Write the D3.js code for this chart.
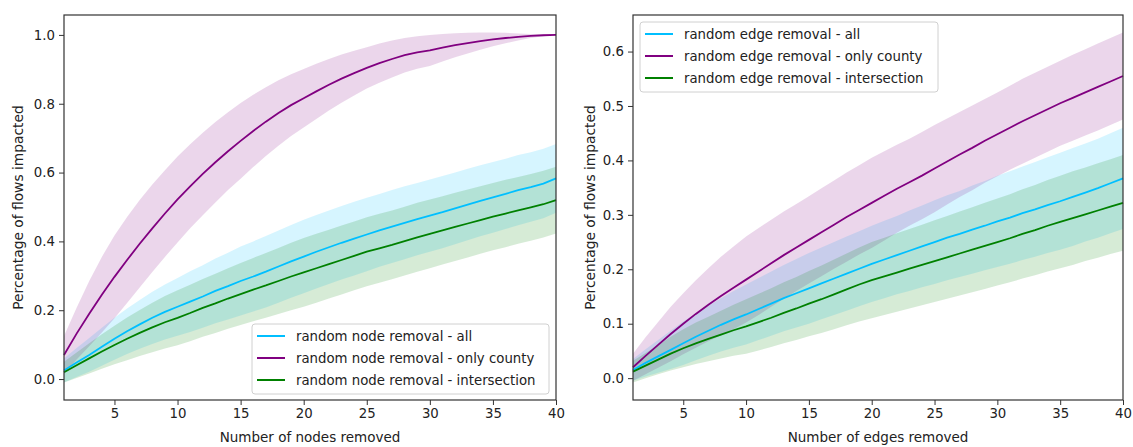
<html>
<head>
<script src="https://d3js.org/d3.v7.min.js"></script>
<style>
body { margin: 0; background: #fff; }
text { font-family: "DejaVu Sans", sans-serif; fill: #222; }
.axis path, .axis line { stroke: #333; }
</style>
</head>
<body>
<svg width="1133" height="447"></svg>
<script>

// x = number of nodes / edges removed
var steps = d3.range(1, 41);

// left panel : random node removal (mean and spread of each run)
var nodeAll = [.025,.048,.07,.094,.117,.139,.159,.178,.195,.21,
  .225,.24,.256,.27,.285,.298,.312,.327,.342,.356,
  .37,.383,.396,.408,.42,.432,.443,.454,.465,.475,
  .485,.496,.507,.518,.528,.538,.549,.558,.568,.583];
var nodeAllStd = [.035,.042,.049,.055,.061,.066,.071,.076,.08,.084,
  .088,.091,.094,.097,.1,.102,.104,.105,.106,.107,
  .107,.107,.107,.107,.107,.106,.106,.106,.105,.105,
  .105,.104,.104,.103,.103,.102,.102,.101,.101,.1];
var nodeCounty = [.07,.132,.19,.245,.297,.346,.393,.438,.481,.522,
  .56,.596,.63,.662,.692,.721,.748,.773,.796,.816,
  .836,.855,.873,.889,.904,.918,.93,.941,.949,.955,
  .963,.97,.976,.982,.987,.991,.994,.997,.999,1.0];
var nodeCountyStd = [.055,.075,.095,.11,.12,.125,.127,.127,.126,.125,
  .122,.12,.117,.113,.11,.105,.1,.095,.09,.085,
  .08,.075,.07,.065,.06,.057,.054,.05,.047,.045,
  .04,.035,.03,.025,.02,.015,.01,.006,.003,0];
var nodeInter = [.02,.04,.06,.08,.099,.117,.134,.15,.165,.178,
  .192,.207,.22,.234,.247,.26,.272,.285,.298,.31,
  .322,.334,.346,.358,.37,.38,.39,.401,.412,.422,
  .432,.442,.452,.462,.472,.481,.49,.499,.508,.52];
var nodeInterStd = [.03,.037,.044,.05,.056,.062,.067,.072,.076,.08,
  .082,.084,.086,.088,.09,.092,.094,.096,.098,.1,
  .1,.1,.1,.1,.1,.1,.1,.1,.1,.1,
  .099,.099,.099,.098,.098,.098,.097,.097,.097,.097];

// right panel : random edge removal
var edgeAll = [.015,.028,.04,.052,.064,.076,.087,.098,.108,.117,
  .127,.137,.147,.156,.165,.174,.183,.192,.201,.21,
  .218,.226,.234,.242,.25,.258,.265,.273,.28,.288,
  .295,.303,.31,.318,.325,.333,.341,.349,.358,.367];
var edgeAllStd = [.02,.025,.03,.035,.04,.043,.046,.049,.052,.055,
  .057,.059,.061,.063,.065,.066,.067,.068,.069,.07,
  .071,.072,.074,.075,.077,.078,.079,.081,.082,.084,
  .085,.086,.087,.088,.089,.09,.09,.091,.092,.093];
var edgeCounty = [.02,.041,.061,.081,.1,.118,.135,.151,.166,.181,
  .196,.211,.226,.24,.254,.268,.282,.296,.309,.322,
  .335,.348,.36,.372,.385,.398,.411,.423,.436,.448,
  .46,.472,.483,.494,.505,.515,.525,.535,.545,.555];
var edgeCountyStd = [.025,.034,.042,.05,.056,.062,.067,.072,.076,.079,
  .08,.08,.08,.08,.08,.081,.081,.082,.082,.083,
  .082,.081,.08,.08,.08,.079,.078,.078,.077,.077,
  .077,.078,.078,.078,.078,.079,.079,.08,.08,.08];
var edgeInter = [.012,.023,.034,.045,.055,.064,.072,.08,.088,.095,
  .103,.111,.12,.128,.137,.145,.154,.163,.172,.18,
  .187,.194,.201,.208,.215,.222,.229,.236,.243,.25,
  .257,.265,.272,.28,.287,.294,.301,.308,.315,.322];
var edgeInterStd = [.02,.023,.027,.031,.035,.038,.041,.044,.047,.05,
  .052,.054,.056,.058,.06,.062,.064,.066,.068,.07,
  .071,.072,.073,.074,.075,.076,.077,.078,.079,.08,
  .081,.082,.083,.084,.085,.086,.086,.087,.087,.088];

var xTicks = [5, 10, 15, 20, 25, 30, 35, 40];
var nodeYTicks = [0, 0.2, 0.4, 0.6, 0.8, 1.0];
var edgeYTicks = [0, 0.1, 0.2, 0.3, 0.4, 0.5, 0.6];
var nodeNames = ["random node removal - all", "random node removal - only county", "random node removal - intersection"];
var edgeNames = ["random edge removal - all", "random edge removal - only county", "random edge removal - intersection"];
var colors = ["#00bfff", "#800080", "#008000"];

var svg = d3.select("svg");

function drawPanel(p) {
  var width = p.right - p.left, height = 400 - 15;
  var g = svg.append("g").attr("transform", "translate(" + p.left + ",15)");

  var series = p.means.map(function(m, k) {
    return steps.map(function(s, i) {
      return {x: s, y: m[i], lo: m[i] - p.stds[k][i], hi: m[i] + p.stds[k][i]};
    });
  });

  // same 5% padding matplotlib puts round the data
  var lo = d3.min(series, function(s) { return d3.min(s, function(d) { return d.lo; }); }),
      hi = d3.max(series, function(s) { return d3.max(s, function(d) { return d.hi; }); }),
      pad = (hi - lo) * 0.05;

  var x = d3.scaleLinear().domain([1, 40]).range([0, width]),
      y = d3.scaleLinear().domain([lo - pad, hi + pad]).range([height, 0]);

  var band = d3.area()
      .x(function(d) { return x(d.x); })
      .y0(function(d) { return y(d.lo); })
      .y1(function(d) { return y(d.hi); });
  var line = d3.line()
      .x(function(d) { return x(d.x); })
      .y(function(d) { return y(d.y); });

  series.forEach(function(s, k) {
    g.append("path").datum(s)
      .attr("d", band)
      .attr("fill", colors[k])
      .attr("fill-opacity", 0.16);
  });
  series.forEach(function(s, k) {
    g.append("path").datum(s)
      .attr("d", line)
      .attr("fill", "none")
      .attr("stroke", colors[k])
      .attr("stroke-width", 1.8);
  });

  var xAxis = g.append("g").attr("class", "axis")
      .attr("transform", "translate(0," + height + ")")
      .call(d3.axisBottom(x).tickValues(xTicks).tickSize(5).tickPadding(4));
  var yAxis = g.append("g").attr("class", "axis")
      .call(d3.axisLeft(y).tickValues(p.yTicks).tickFormat(d3.format(".1f")).tickSize(5).tickPadding(4));
  g.selectAll(".axis text").style("font-size", "13.3px").style("fill", "#222");
  xAxis.select(".domain").remove();
  yAxis.select(".domain").remove();

  g.append("rect")
    .attr("width", width).attr("height", height)
    .attr("fill", "none").attr("stroke", "#333").attr("stroke-width", 1.2);

  g.append("text")
    .attr("x", width / 2).attr("y", 427)
    .attr("text-anchor", "middle")
    .style("font-size", "13.5px")
    .text(p.xLabel);
  g.append("text")
    .attr("transform", "translate(" + (p.yLabelX - p.left) + "," + (height / 2) + ") rotate(-90)")
    .attr("text-anchor", "middle")
    .attr("dy", "0.35em")
    .style("font-size", "13.8px")
    .text("Percentage of flows impacted");

  // legend
  var lg = svg.append("g").attr("transform", "translate(" + p.legend[0] + "," + p.legend[1] + ")");
  lg.append("rect")
    .attr("width", p.legend[2]).attr("height", 70)
    .attr("rx", 3)
    .attr("fill", "#fff").attr("fill-opacity", 0.8)
    .attr("stroke", "#d0d0d0");
  p.names.forEach(function(name, k) {
    var row = lg.append("g").attr("transform", "translate(0," + (12 + k * 22) + ")");
    row.append("line")
      .attr("x1", 5).attr("x2", 33)
      .attr("stroke", colors[k]).attr("stroke-width", 2);
    row.append("text")
      .attr("x", 44).attr("dy", "0.35em")
      .style("font-size", "13.3px")
      .text(name);
  });
}

drawPanel({left: 64, right: 556, means: [nodeAll, nodeCounty, nodeInter],
  stds: [nodeAllStd, nodeCountyStd, nodeInterStd], yTicks: nodeYTicks,
  xLabel: "Number of nodes removed", yLabelX: 18, names: nodeNames,
  legend: [252, 324, 297]});

drawPanel({left: 633, right: 1123, means: [edgeAll, edgeCounty, edgeInter],
  stds: [edgeAllStd, edgeCountyStd, edgeInterStd], yTicks: edgeYTicks,
  xLabel: "Number of edges removed", yLabelX: 590, names: edgeNames,
  legend: [640, 22, 298]});

</script>
</body>
</html>
